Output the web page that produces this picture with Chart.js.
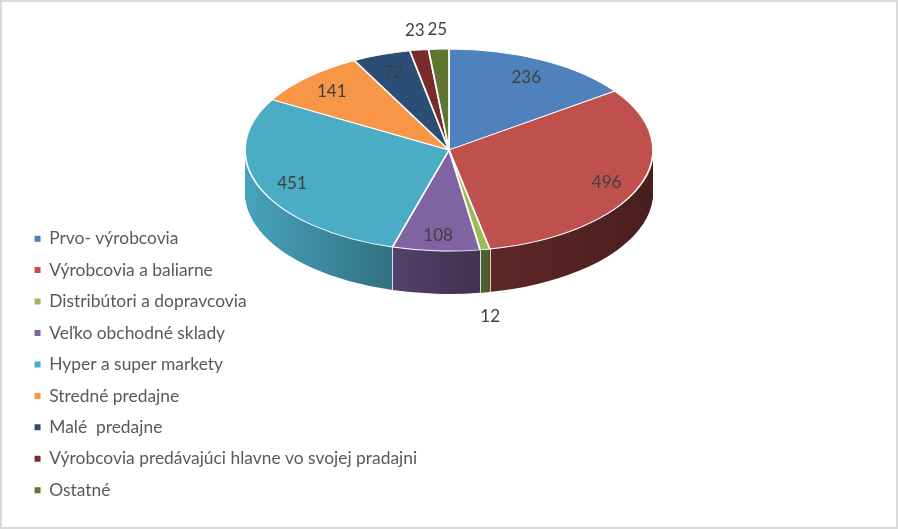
<!DOCTYPE html>
<html>
<head>
<meta charset="utf-8">
<script src="https://cdn.jsdelivr.net/npm/chart.js@4.4.1/dist/chart.umd.min.js"></script>
<style>
  html, body { margin: 0; padding: 0; background: #fff; }
  canvas { display: block; }
</style>
</head>
<body>
<canvas id="chart" width="898" height="529"></canvas>
<script>
const categories = [
    'Prvo- výrobcovia',
    'Výrobcovia a baliarne',
    'Distribútori a dopravcovia',
    'Veľko obchodné sklady',
    'Hyper a super markety',
    'Stredné predajne',
    'Malé  predajne',
    'Výrobcovia predávajúci hlavne vo svojej pradajni',
    'Ostatné'
];
const values = [236, 496, 12, 108, 451, 141, 72, 23, 25];
const colors = ['#4F81BD', '#C0504D', '#9BBB59', '#8064A2', '#4BACC6', '#F79646', '#2C4D75', '#772C2A', '#5F7530'];

// where the flattened pie sits on the page (top face ellipse + wall height)
const PIE = { cx: 449, cy: 150, rx: 204, ry: 101, depth: 43 };

const total = values.reduce((a, b) => a + b, 0);

// darken a hex colour by factor f
const shade = (hex, f) => {
    const n = parseInt(hex.slice(1), 16);
    const r = Math.round(((n >> 16) & 255) * f);
    const g = Math.round(((n >> 8) & 255) * f);
    const b = Math.round((n & 255) * f);
    return `rgb(${r}, ${g}, ${b})`;
};

// map the library's round pie onto the ellipse, shifted down by d px
function toEllipse(ctx, ref, d) {
    const R = ref.outerRadius;
    ctx.translate(PIE.cx, PIE.cy + d);
    ctx.scale(PIE.rx / R, PIE.ry / R);
    ctx.translate(-ref.x, -ref.y);
}

// draw an arc element with some options swapped
function drawArcAs(arc, ctx, opts) {
    const copy = Object.create(arc);
    copy.options = Object.assign({}, arc.options, opts);
    copy.draw(ctx);
}

const pie3d = {
    id: 'pie3d',
    beforeDatasetsDraw(chart) {
        const ctx = chart.ctx;
        const arcs = chart.getDatasetMeta(0).data;
        if (!arcs.length) return;
        const ref = arcs[0];
        const R = ref.outerRadius;

        // 1. walls: stacked copies of each slice, shaded left -> right
        const grads = arcs.map((arc, i) => {
            const g = ctx.createLinearGradient(ref.x - R, 0, ref.x + R, 0);
            g.addColorStop(0, shade(colors[i], 0.95));
            g.addColorStop(0.35, shade(colors[i], 0.66));
            g.addColorStop(0.58, shade(colors[i], 0.5));
            g.addColorStop(1, shade(colors[i], 0.38));
            return g;
        });
        for (let d = PIE.depth; d >= 1; d--) {
            arcs.forEach((arc, i) => {
                ctx.save();
                toEllipse(ctx, ref, d);
                drawArcAs(arc, ctx, { backgroundColor: grads[i], borderWidth: 0 });
                ctx.restore();
            });
        }

        // 2. light seams between slices on the front wall
        ctx.save();
        ctx.strokeStyle = 'rgba(255,255,255,0.8)';
        ctx.lineWidth = 1;
        arcs.forEach(arc => {
            const s = Math.sin(arc.startAngle);
            if (s > 0.05) {
                const x = Math.round(PIE.cx + PIE.rx * Math.cos(arc.startAngle)) + 0.5;
                const y = PIE.cy + PIE.ry * s;
                ctx.beginPath();
                ctx.moveTo(x, y);
                ctx.lineTo(x, y + PIE.depth);
                ctx.stroke();
            }
        });
        ctx.restore();

        // 3. top face is drawn by the chart itself, under this transform
        ctx.save();
        toEllipse(ctx, ref, 0);
    },
    afterDatasetsDraw(chart) {
        const ctx = chart.ctx;
        const arcs = chart.getDatasetMeta(0).data;
        if (!arcs.length) return;
        ctx.restore();

        // data labels
        ctx.save();
        ctx.font = '17px Lato';
        ctx.fillStyle = '#404040';
        ctx.textAlign = 'center';
        ctx.textBaseline = 'middle';
        arcs.forEach((arc, i) => {
            const mid = (arc.startAngle + arc.endAngle) / 2;
            const c = Math.cos(mid), s = Math.sin(mid);
            let x, y;
            if (values[i] / total < 0.03) {
                // small slices: label outside the rim
                x = PIE.cx + PIE.rx * c + c * 30;
                y = PIE.cy + PIE.ry * s + s * 22 + (s > 0 ? PIE.depth : 0);
            } else {
                x = PIE.cx + PIE.rx * 0.83 * c;
                y = PIE.cy + PIE.ry * 0.83 * s;
            }
            ctx.fillText(String(values[i]), x, y + 2);
        });
        ctx.restore();
    }
};

const frame = {
    id: 'frame',
    afterDraw(chart) {
        const ctx = chart.ctx;
        ctx.save();
        ctx.strokeStyle = '#d9d9d9';
        ctx.lineWidth = 2;
        ctx.strokeRect(1, 1, chart.width - 2, chart.height - 2);
        ctx.restore();
    }
};

new Chart(document.getElementById('chart'), {
    type: 'pie',
    data: {
        labels: categories,
        datasets: [{
            data: values,
            backgroundColor: colors,
            borderColor: '#ffffff',
            borderWidth: 2
        }]
    },
    options: {
        responsive: false,
        animation: false,
        events: [],
        layout: { padding: { left: 20.5, right: 10, top: 10, bottom: 16 } },
        plugins: {
            tooltip: { enabled: false },
            legend: {
                position: 'left',
                align: 'end',
                labels: {
                    boxWidth: 6,
                    boxHeight: 6,
                    padding: 14.05,
                    color: '#595959',
                    font: { family: 'Lato', size: 17.4 },
                    generateLabels(chart) {
                        const items = Chart.overrides.pie.plugins.legend.labels.generateLabels(chart);
                        items.forEach(it => { it.lineWidth = 0; });
                        return items;
                    }
                }
            }
        }
    },
    plugins: [pie3d, frame]
});
</script>
</body>
</html>
